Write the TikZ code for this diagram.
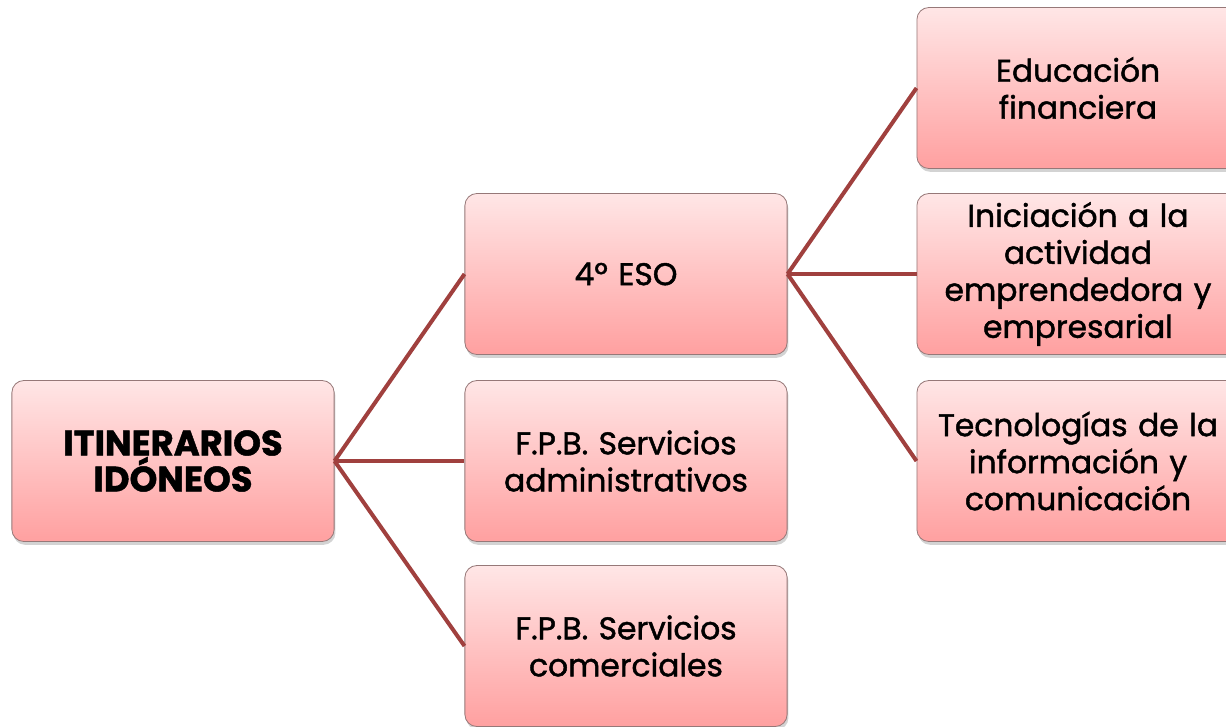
\documentclass[tikz,border=0pt]{standalone}
\usepackage{fontspec}
\setmainfont{Poppins}[FakeBold=1.4]
\usetikzlibrary{shadows}
\definecolor{linkred}{RGB}{160,64,62}
\definecolor{boxtop}{RGB}{255,230,230}
\definecolor{boxbot}{RGB}{255,160,160}
\definecolor{boxedge}{RGB}{150,120,120}
\begin{document}
\begin{tikzpicture}[x=0.75pt,y=-0.75pt,
  box/.style={rectangle, rounded corners=9pt, draw=boxedge, line width=0.6pt,
    top color=boxtop, bottom color=boxbot,
    minimum width=241.5pt, minimum height=120.75pt, align=center, text width=235pt,
    font=\fontsize{23.5}{27.75}\selectfont,
    drop shadow={shadow xshift=1pt, shadow yshift=-2.5pt, opacity=0.35}},
  link/.style={draw=linkred, line width=3pt}]
\useasboundingbox (0,0) rectangle (1226,726);
\node[box, font=\fontsize{26.5}{27}\selectfont\bfseries] (root) at (173,461) {ITINERARIOS\\IDÓNEOS};
\node[box] (eso) at (626,274) {4º ESO};
\node[box] (adm) at (626,461) {F.P.B. Servicios\\administrativos};
\node[box] (com) at (626,646) {F.P.B. Servicios\\comerciales};
\node[box] (fin) at (1078,88) {Educación\\financiera};
\node[box] (emp) at (1078,274) {Iniciación a la\\actividad\\emprendedora y\\empresarial};
\node[box] (tic) at (1078,461) {Tecnologías de la\\información y\\comunicación};
\draw[link] (root.east) -- (eso.west);
\draw[link] (root.east) -- (adm.west);
\draw[link] (root.east) -- (com.west);
\draw[link] (eso.east) -- (fin.west);
\draw[link] (eso.east) -- (emp.west);
\draw[link] (eso.east) -- (tic.west);
\end{tikzpicture}
\end{document}
